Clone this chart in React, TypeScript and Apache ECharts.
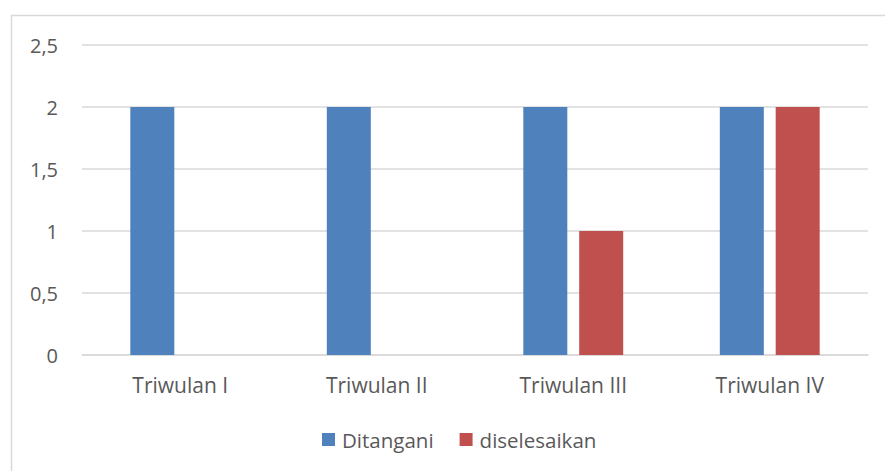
import React, { useEffect, useRef } from "react";
import * as echarts from "echarts";

const categories = ["Triwulan I", "Triwulan II", "Triwulan III", "Triwulan IV"];
const ditangani = [2, 2, 2, 2];
const diselesaikan = [0, 0, 1, 2];
const seriesNames = ["Ditangani", "diselesaikan"];

export default function App() {
  const ref = useRef<HTMLDivElement>(null);
  useEffect(() => {
    document.body.style.margin = "0";
    const chart = echarts.init(ref.current!, null, { renderer: "svg" });
    const font = "'Open Sans', 'Noto Sans', sans-serif";
    chart.setOption({
      animation: false,
      backgroundColor: "#ffffff",
      textStyle: { fontFamily: font },
      graphic: [
        {
          type: "rect",
          shape: { x: 11.5, y: 15.5, width: 900, height: 500 },
          style: { fill: "none", stroke: "#D9D9D9", lineWidth: 1.5 },
          silent: true,
        },
      ],
      grid: { left: 82, right: 17, top: 45, bottom: 116 },
      legend: {
        top: 424,
        left: 317,
        itemWidth: 13,
        itemHeight: 13,
        itemGap: 26,
        icon: "rect",
        textStyle: { color: "#595959", fontSize: 20.5, fontFamily: font, padding: [0, 0, 0, 2] },
        data: seriesNames,
      },
      xAxis: {
        type: "category",
        data: categories,
        axisLine: { show: true, lineStyle: { color: "#D9D9D9", width: 1.5 } },
        axisTick: { show: false },
        axisLabel: { color: "#595959", fontSize: 21, margin: 19, fontFamily: font },
      },
      yAxis: {
        type: "value",
        min: 0,
        max: 2.5,
        interval: 0.5,
        axisLine: { show: false },
        axisTick: { show: false },
        splitLine: { lineStyle: { color: "#D9D9D9", width: 1.5 } },
        axisLabel: {
          color: "#595959",
          fontSize: 20,
          margin: 24,
          fontFamily: font,
          formatter: (v: number) => String(v).replace(".", ","),
        },
      },
      series: [
        {
          name: seriesNames[0],
          type: "bar",
          data: ditangani,
          barWidth: 44,
          barGap: "27%",
          itemStyle: { color: "#4F81BD" },
        },
        {
          name: seriesNames[1],
          type: "bar",
          data: diselesaikan,
          barWidth: 44,
          itemStyle: { color: "#C0504D" },
        },
      ],
    });
    return () => chart.dispose();
  }, []);
  return <div ref={ref} style={{ width: 885, height: 471 }} />;
}
